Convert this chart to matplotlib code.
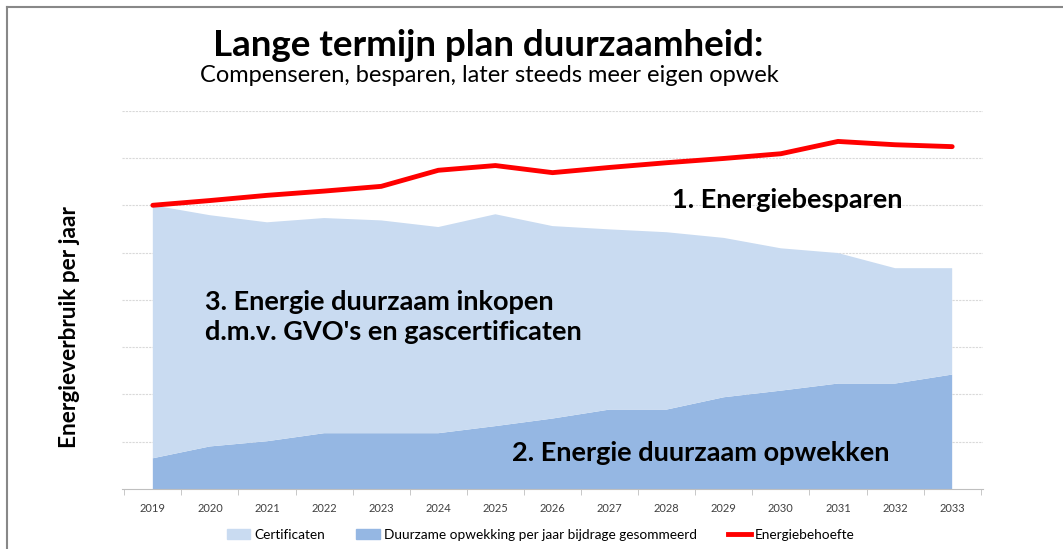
import matplotlib.pyplot as plt
from matplotlib.lines import Line2D
from matplotlib.patches import Patch

plt.rcParams['font.family'] = ['Lato', 'DejaVu Sans']

years = ['2019', '2020', '2021', '2022', '2023', '2024', '2025', '2026',
         '2027', '2028', '2029', '2030', '2031', '2032', '2033']

# eigen opwek (onderste laag)
opwekking = [0.65, 0.90, 1.01, 1.18, 1.18, 1.18, 1.33, 1.49,
             1.68, 1.68, 1.94, 2.08, 2.23, 2.23, 2.42]
# totaal verbruik na besparing
totaal = [6.00, 5.79, 5.64, 5.73, 5.68, 5.54, 5.81, 5.56,
          5.49, 5.43, 5.31, 5.09, 4.99, 4.67, 4.67]
certificaten = [t - o for t, o in zip(totaal, opwekking)]
# energiebehoefte zonder besparing
behoefte = [6.00, 6.10, 6.21, 6.30, 6.40, 6.74, 6.84, 6.69,
            6.80, 6.90, 6.99, 7.09, 7.35, 7.28, 7.24]

light = '#c9dbf1'
dark = '#95b7e3'
red = '#ff0000'

fig = plt.figure(figsize=(10.63, 5.49), dpi=100)
ax = fig.add_axes([122 / 1063, 1 - 489 / 549, (983 - 122) / 1063, (489 - 110.7) / 549])

x = list(range(len(years)))
ax.stackplot(x, opwekking, certificaten, colors=[dark, light])
ax.plot(x, behoefte, color=red, lw=3.5, solid_capstyle='round', zorder=5)

ax.set_xlim(-0.54, 14.54)
ax.set_ylim(0, 8)
ax.set_yticks(range(1, 9))
ax.set_yticklabels([])
ax.tick_params(axis='y', length=0)
ax.yaxis.grid(True, color='#d9d9d9', lw=0.8, ls=(0, (2, 1)))
ax.set_axisbelow(True)
for s in ['top', 'right', 'left']:
    ax.spines[s].set_visible(False)
ax.spines['bottom'].set_color('#bfbfbf')
ax.set_xticks(x)
ax.set_xticklabels(years, fontsize=8, color='#404040')
ax.tick_params(axis='x', length=0, pad=10)
ax.set_xticks([i + 0.5 for i in range(-1, 15)], minor=True)
ax.tick_params(axis='x', which='minor', length=4, color='#bfbfbf')

ax.text(0.91, 3.63, "3. Energie duurzaam inkopen\nd.m.v. GVO's en gascertificaten",
        fontsize=19.5, fontweight='bold', va='center', ha='left', linespacing=1.3)
ax.text(6.29, 0.76, "2. Energie duurzaam opwekken",
        fontsize=19.5, fontweight='bold', va='center', ha='left')
ax.text(9.09, 6.11, "1. Energiebesparen",
        fontsize=19.5, fontweight='bold', va='center', ha='left')

fig.text(70 / 1063, 1 - 327 / 549, 'Energieverbruik per jaar', rotation=90,
         fontsize=16.3, fontweight='bold', ha='center', va='center')
fig.text(488 / 1063, 1 - 45 / 549, 'Lange termijn plan duurzaamheid:',
         fontsize=26.5, fontweight='bold', ha='center', va='center')
fig.text(489 / 1063, 1 - 76 / 549, 'Compenseren, besparen, later steeds meer eigen opwek',
         fontsize=17, ha='center', va='center')

handles = [Patch(color=light), Patch(color=dark), Line2D([], [], color=red, lw=3.5)]
labels = ['Certificaten', 'Duurzame opwekking per jaar bijdrage gesommeerd', 'Energiebehoefte']
fig.legend(handles, labels, loc='center', bbox_to_anchor=(541 / 1063, 1 - 535 / 549),
           ncol=3, frameon=False, fontsize=9.8, handlelength=1.7, handletextpad=0.3,
           columnspacing=2.3)

# randje van de figuur
fig.add_artist(Line2D([7 / 1063, 7 / 1063], [0, 1 - 7 / 549], color='#888888', lw=1.5))
fig.add_artist(Line2D([7 / 1063, 1], [1 - 7 / 549, 1 - 7 / 549], color='#888888', lw=1.5))

fig.savefig('out.png', dpi=100)
